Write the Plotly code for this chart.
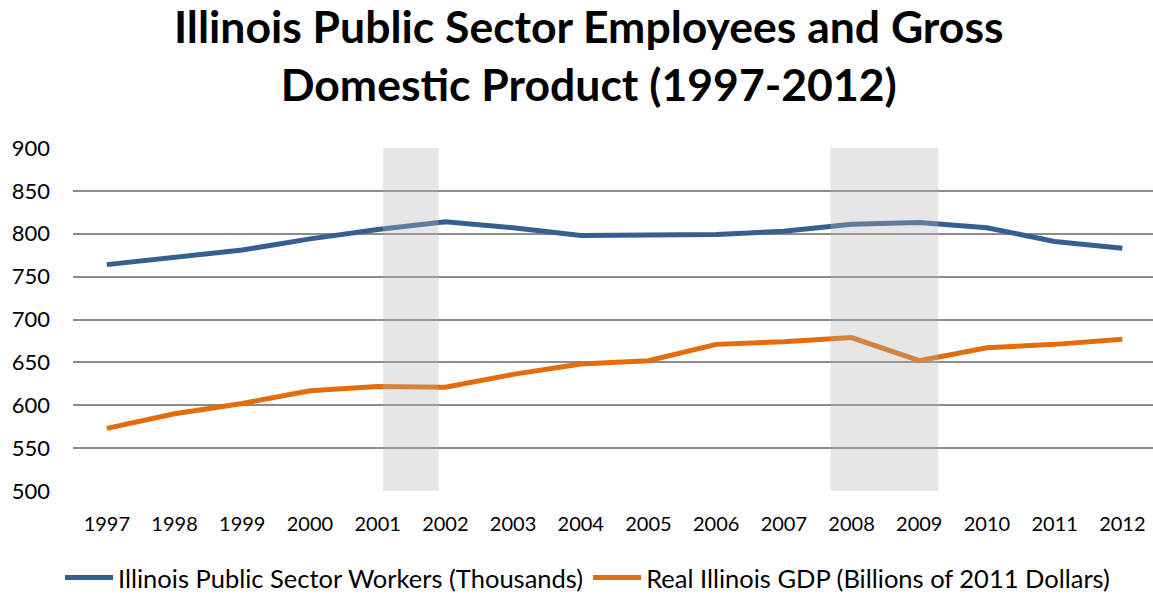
import plotly.graph_objects as go

years = list(range(1997, 2013))
workers = [764, 772, 781, 794, 805, 814, 807, 798, 799, 799, 803, 811, 813, 807, 791, 783]
gdp = [573, 590, 602, 617, 622, 621, 636, 648, 652, 671, 674, 679, 652, 667, 671, 677]
recessions = [(2001.08, 2001.9), (2007.69, 2009.28)]
y_ticks = [500, 550, 600, 650, 700, 750, 800, 850, 900]

FONT = "Lato"

fig = go.Figure()
fig.add_trace(go.Scatter(x=years, y=workers, mode="lines",
                         name="Illinois Public Sector Workers (Thousands)",
                         line=dict(color="#365F91", width=5)))
fig.add_trace(go.Scatter(x=years, y=gdp, mode="lines",
                         name="Real Illinois GDP (Billions of 2011 Dollars)",
                         line=dict(color="#E46C0A", width=5)))

for x0, x1 in recessions:
    fig.add_shape(type="rect", xref="x", yref="y", x0=x0, x1=x1, y0=500, y1=900,
                  fillcolor="rgb(180,180,180)", opacity=0.33, line=dict(width=0),
                  layer="above")

fig.add_annotation(text="<b>Illinois Public Sector Employees and Gross<br>Domestic Product (1997-2012)</b>",
                   xref="paper", yref="paper", x=(589-73)/1080, y=(491-55)/343,
                   xanchor="center", yanchor="middle", showarrow=False,
                   font=dict(family=FONT, size=44.5, color="black"))

fig.update_layout(
    width=1153, height=595,
    margin=dict(l=73, r=0, t=148, b=104, autoexpand=False),
    paper_bgcolor="white", plot_bgcolor="white",
    font=dict(family=FONT, color="black"),
    xaxis=dict(range=[1996.5, 1996.5 + 1080/67.7], tickvals=years,
               ticktext=[str(y) for y in years], showgrid=False, zeroline=False,
               showline=False, ticks="", ticklabelstandoff=19, automargin=False,
               tickfont=dict(size=20, family=FONT)),
    yaxis=dict(range=[500, 900], tickvals=y_ticks, showgrid=True,
               gridcolor="#8c8c8c", gridwidth=2, zeroline=False, showline=False,
               ticks="", ticklabelstandoff=22, automargin=False,
               tickfont=dict(size=22, family=FONT)),
    legend=dict(orientation="h", x=(587.5-73)/1080, xanchor="center",
                y=-87/343, yanchor="middle", font=dict(size=25.5, family=FONT),
                itemwidth=48),
    showlegend=True,
)

fig.write_html("out.html")
